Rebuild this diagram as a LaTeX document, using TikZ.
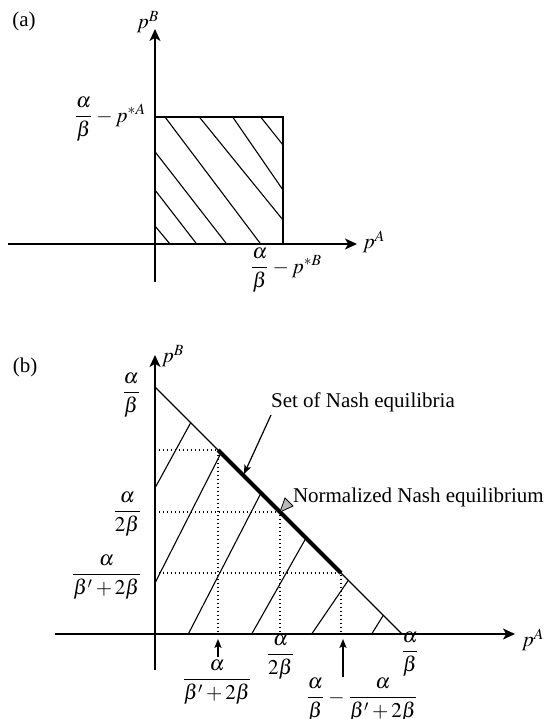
\documentclass[tikz,border=0pt]{standalone}
\usepackage{amsmath}
\usepackage{mathptmx}
\usepackage{fontspec}
\setmainfont{Liberation Serif}
\usetikzlibrary{arrows.meta}
\begin{document}
\begin{tikzpicture}[x=0.5pt,y=-0.5pt,
  font=\fontsize{10.5}{12.6}\selectfont,
  axisline/.style={line width=0.9pt,-{Stealth[length=6pt,width=5.5pt,inset=1.6pt]}},
  boxline/.style={line width=0.9pt},
  hatchline/.style={line width=0.55pt},
  dotline/.style={line width=0.55pt,dash pattern=on 0.7pt off 1.3pt},
  thickseg/.style={line width=2pt},
  lbl/.style={inner sep=0pt,outer sep=0pt},
  pointer/.style={line width=0.6pt,-{Stealth[length=4.5pt,width=3.6pt,inset=1pt]}}]
\useasboundingbox (0,0) rectangle (547,719);

% ---------------- (a) ----------------
\coordinate (aXs) at (8,244);
\coordinate (aXe) at (357,244);
\coordinate (aYs) at (155,282);
\coordinate (aYe) at (155,29);
\coordinate (aTL) at (155,117);
\coordinate (aBR) at (283,244);

\draw[hatchline] (155,226) -- (170,244);
\draw[hatchline] (155,190) -- (196.7,244);
\draw[hatchline] (155,151.7) -- (226.7,244);
\draw[hatchline] (165,117) -- (260.7,244);
\draw[hatchline] (199.3,117) -- (283,220);
\draw[hatchline] (232.7,117) -- (283,190);
\draw[hatchline] (260.7,117) -- (283,145);
\draw[boxline] (aTL) rectangle (aBR);
\draw[axisline] (aXs) -- (aXe);
\draw[axisline] (aYs) -- (aYe);

\node[lbl] (la) at (24,21) {(a)};
\node[lbl] (apB) at (148,22) {$p^{B}$};
\node[lbl] (apA) at (374,242) {$p^{A}$};
\node[lbl,anchor=base east] (aqA) at (146,122) {$\dfrac{\alpha}{\beta}-p^{*A}$};
\node[lbl,anchor=base] (aqB) at (286,273) {$\dfrac{\alpha}{\beta}-p^{*B}$};

% ---------------- (b) ----------------
\coordinate (bXs) at (55,634);
\coordinate (bXe) at (515,634);
\coordinate (bYs) at (155,670);
\coordinate (bYe) at (155,355);
\coordinate (bTop) at (155,387);
\coordinate (bRight) at (402,634);
\coordinate (P1) at (218,450);
\coordinate (P2) at (341,573);
\coordinate (PN) at (280,512);

\draw[hatchline] (155,488) -- (190.7,422.7);
\draw[hatchline] (155,583) -- (221,453);
\draw[hatchline] (188.3,634) -- (261,493);
\draw[hatchline] (251.7,634) -- (306,538);
\draw[hatchline] (311.7,634) -- (348.3,580.3);
\draw[hatchline] (371.7,634) -- (383.3,615.3);

\draw[dotline] (P1 -| bTop) -- (P1) -- (P1 |- bXs);
\draw[dotline] (PN -| bTop) -- (PN) -- (PN |- bXs);
\draw[dotline] (P2 -| bTop) -- (P2) -- (P2 |- bXs);

\draw[hatchline] (bTop) -- (bRight);
\draw[thickseg] (P1) -- (P2);
\draw[axisline] (bXs) -- (bXe);
\draw[axisline] (bYs) -- (bYe);

\node[lbl] (lb) at (25,367) {(b)};
\node[lbl] (bpB) at (173,356) {$p^{B}$};
\node[lbl] (bpA) at (533,640) {$p^{A}$};

\node[lbl,anchor=base east] (by1) at (141,398) {$\dfrac{\alpha}{\beta}$};
\node[lbl,anchor=base east] (by2) at (142,517) {$\dfrac{\alpha}{2\beta}$};
\node[lbl,anchor=base east] (by3) at (142,580) {$\dfrac{\alpha}{\beta'+2\beta}$};

\node[lbl,anchor=base] (bx1) at (217,685) {$\dfrac{\alpha}{\beta'+2\beta}$};
\node[lbl,anchor=base] (bx2) at (280.5,660) {$\dfrac{\alpha}{2\beta}$};
\node[lbl,anchor=base] (bx3) at (410,657) {$\dfrac{\alpha}{\beta}$};
\node[lbl,anchor=base] (bx4) at (362,703) {$\dfrac{\alpha}{\beta}-\dfrac{\alpha}{\beta'+2\beta}$};

\coordinate (t1s) at (218,657);
\coordinate (t1e) at (218,639);
\coordinate (t2s) at (343,677);
\coordinate (t2e) at (343,639);
\draw[pointer] (t1s) -- (t1e);
\draw[pointer] (t2s) -- (t2e);

\node[lbl] (setN) at (363,402) {Set of Nash equilibria};
\coordinate (sA) at (271,415);
\coordinate (sB) at (244,474);
\draw[pointer] (sA) -- (sB);

\node[lbl,anchor=base west] (norm) at (293,502) {Normalized Nash equilibrium};
\filldraw[fill=gray!55,draw=black,line width=0.4pt] (PN) -- (285,498) -- (293,506) -- cycle;
\end{tikzpicture}
\end{document}
